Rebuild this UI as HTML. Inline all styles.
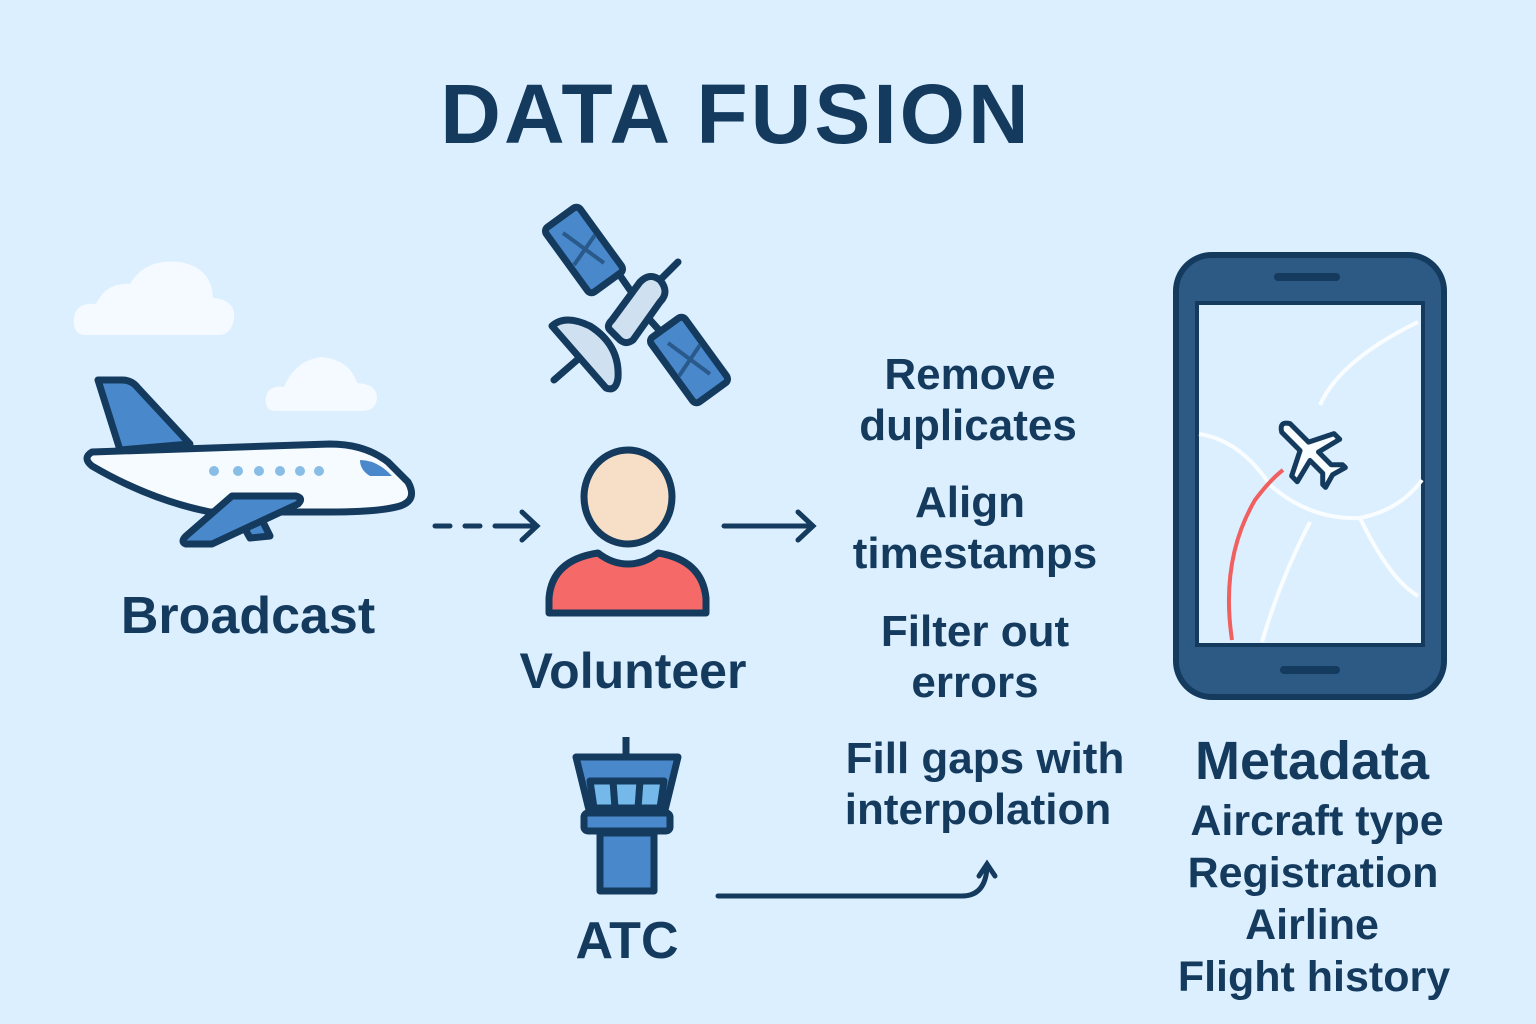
<!DOCTYPE html>
<html><head><meta charset="utf-8"><style>
html,body{margin:0;padding:0;background:#dcefff;}
svg{display:block}
text{font-family:"Liberation Sans","DejaVu Sans",sans-serif;fill:#143a5e;}
</style></head><body>
<svg width="1536" height="1024" viewBox="0 0 1536 1024" xmlns="http://www.w3.org/2000/svg">
<rect width="1536" height="1024" fill="#dcefff"/>
<text x="736" y="143" font-size="84" font-weight="bold" text-anchor="middle" letter-spacing="3">DATA FUSION</text>

<!-- clouds -->
<path d="M86 335 Q72 335 74 318 Q76 302 96 304 Q106 282 130 284 Q145 258 180 262 Q212 268 213 298 Q236 300 234 318 Q232 335 218 335 Z" fill="#f4faff"/>
<path d="M276 411 Q264 411 266 397 Q268 385 284 387 Q295 360 322 357 Q350 360 357 383 Q377 384 377 398 Q376 411 362 411 Z" fill="#f4faff"/>

<!-- airplane -->
<g stroke="#143a5e" stroke-width="7" stroke-linejoin="round" stroke-linecap="round">
<path d="M98 380 L122 380 Q132 380 138 388 L190 444 L120 450 Z" fill="#4a88cc"/>
<path d="M92 452 L330 444 Q365 444 388 462 L408 482 Q418 500 400 506 Q380 512 330 512 L210 512 Q150 500 92 466 Q82 458 92 452 Z" fill="#f6fbff"/>
<path d="M360 460 Q375 460 388 472 L392 476 L370 476 Q360 470 360 460 Z" fill="#4a88cc" stroke="none"/>
<path d="M240 520 L262 520 L270 536 L250 538 Z" fill="#4a88cc"/>
<path d="M232 496 L296 496 Q304 498 298 504 L212 544 L186 544 Q180 542 186 536 Z" fill="#4a88cc"/>
</g>
<g fill="#88bde6"><circle cx="214" cy="471" r="5"/><circle cx="238" cy="471" r="5"/><circle cx="259" cy="471" r="5"/><circle cx="280" cy="471" r="5"/><circle cx="300" cy="471" r="5"/><circle cx="319" cy="471" r="5"/></g>
<text x="248" y="633" font-size="52" font-weight="bold" text-anchor="middle">Broadcast</text>

<!-- dashed arrow -->
<g stroke="#143a5e" stroke-width="5" stroke-linecap="round" fill="none">
<path d="M435 526 L450 526 M465 526 L480 526 M495 526 L535 526"/>
<path d="M522 512 L537 526 L522 540"/>
<path d="M724 526 L812 526 M798 512 L813 526 L798 540"/>
<path d="M718 896 L962 896 Q985 896 987 868"/>
<path d="M979 876 L987 864 L995 876"/>
</g>

<!-- satellite -->
<g stroke="#143a5e" stroke-width="7" stroke-linejoin="round" stroke-linecap="round">
<line x1="630" y1="290" x2="612" y2="264"/>
<line x1="650" y1="320" x2="668" y2="340"/>
<line x1="660" y1="280" x2="678" y2="262"/>
<line x1="600" y1="340" x2="554" y2="380"/>
<rect x="563" y="210" width="42" height="80" rx="5" transform="rotate(-36 584 250)" fill="#4a88cc"/>
<rect x="668" y="320" width="42" height="80" rx="5" transform="rotate(-36 689 360)" fill="#4a88cc"/>
<path d="M612 320 L640 282 Q650 272 660 280 Q670 292 660 302 L633 340 Q625 346 618 338 L610 330 Q606 326 612 320 Z" fill="#cfe0f0"/>
<path d="M552 326 Q565 314 590 326 Q620 345 618 378 Q616 392 606 388 Z" fill="#cfe0f0"/>
</g>
<g stroke="#2a5a8c" stroke-width="4"><line x1="563" y1="233" x2="604" y2="263"/><line x1="574" y1="265" x2="595" y2="235"/><line x1="668" y1="343" x2="710" y2="374"/><line x1="679" y1="376" x2="700" y2="345"/></g>

<!-- volunteer -->
<g stroke="#143a5e" stroke-width="7">
<ellipse cx="628" cy="497" rx="44" ry="47" fill="#f6dfc6"/>
<path d="M549 613 L549 598 Q552 560 598 553 Q612 564 628 564 Q644 564 658 553 Q702 560 706 598 L706 613 Z" fill="#f56a68" stroke-linejoin="round"/>
</g>
<text x="633" y="688" font-size="50" font-weight="bold" text-anchor="middle">Volunteer</text>

<!-- tower -->
<g stroke="#143a5e" stroke-width="7" stroke-linejoin="round">
<line x1="626" y1="737" x2="626" y2="756"/>
<path d="M576 757 L678 757 L665 810 L589 810 Z" fill="#4a88cc"/>
<path d="M590 781 L664 781 L660 808 L594 808 Z" fill="#74b9e9"/>
<line x1="613" y1="781" x2="615" y2="808"/><line x1="640" y1="781" x2="638" y2="808"/>
<rect x="584" y="813" width="86" height="18" rx="4" fill="#4a88cc"/>
<rect x="600" y="833" width="54" height="58" fill="#4a88cc"/>
</g>
<text x="627" y="958" font-size="52" font-weight="bold" text-anchor="middle">ATC</text>

<!-- steps -->
<g font-size="44" font-weight="bold" text-anchor="middle">
<text x="970" y="389">Remove</text><text x="968" y="440">duplicates</text>
<text x="970" y="517">Align</text><text x="975" y="568">timestamps</text>
<text x="975" y="646">Filter out</text><text x="975" y="697">errors</text>
<text x="985" y="773">Fill gaps with</text><text x="978" y="824">interpolation</text>
</g>

<!-- phone -->
<rect x="1176" y="255" width="268" height="442" rx="36" fill="#2c5a85" stroke="#143a5e" stroke-width="6"/>
<rect x="1197" y="303" width="226" height="342" fill="#dcefff" stroke="#143a5e" stroke-width="4"/>
<rect x="1274" y="273" width="66" height="8" rx="4" fill="#143a5e"/>
<rect x="1280" y="666" width="60" height="8" rx="4" fill="#143a5e"/>
<g stroke="#fafdff" stroke-width="4" fill="none">
<path d="M1320 405 Q1340 360 1418 322"/>
<path d="M1199 434 Q1240 440 1270 485 Q1310 520 1360 518 Q1400 510 1422 480"/>
<path d="M1310 522 Q1280 580 1262 642"/>
<path d="M1360 518 Q1390 580 1418 596"/>
</g>
<path d="M1232 640 Q1220 560 1255 500 Q1270 480 1283 470" stroke="#f06060" stroke-width="4" fill="none"/>
<g transform="translate(1310 452) rotate(-45)" stroke="#143a5e" stroke-width="5" stroke-linejoin="round" fill="#fafdff">
<path d="M-6 -34 Q0 -44 6 -34 L6 -8 L30 4 L30 12 L6 6 L6 24 L14 32 L14 36 L0 32 L-14 36 L-14 32 L-6 24 L-6 6 L-30 12 L-30 4 L-6 -8 Z"/>
</g>

<text x="1312" y="779" font-size="54" font-weight="bold" text-anchor="middle">Metadata</text>
<g font-size="43" font-weight="bold" text-anchor="middle">
<text x="1317" y="835">Aircraft type</text>
<text x="1313" y="887">Registration</text>
<text x="1312" y="939">Airline</text>
<text x="1314" y="991">Flight history</text>
</g>
</svg>
</body></html>
